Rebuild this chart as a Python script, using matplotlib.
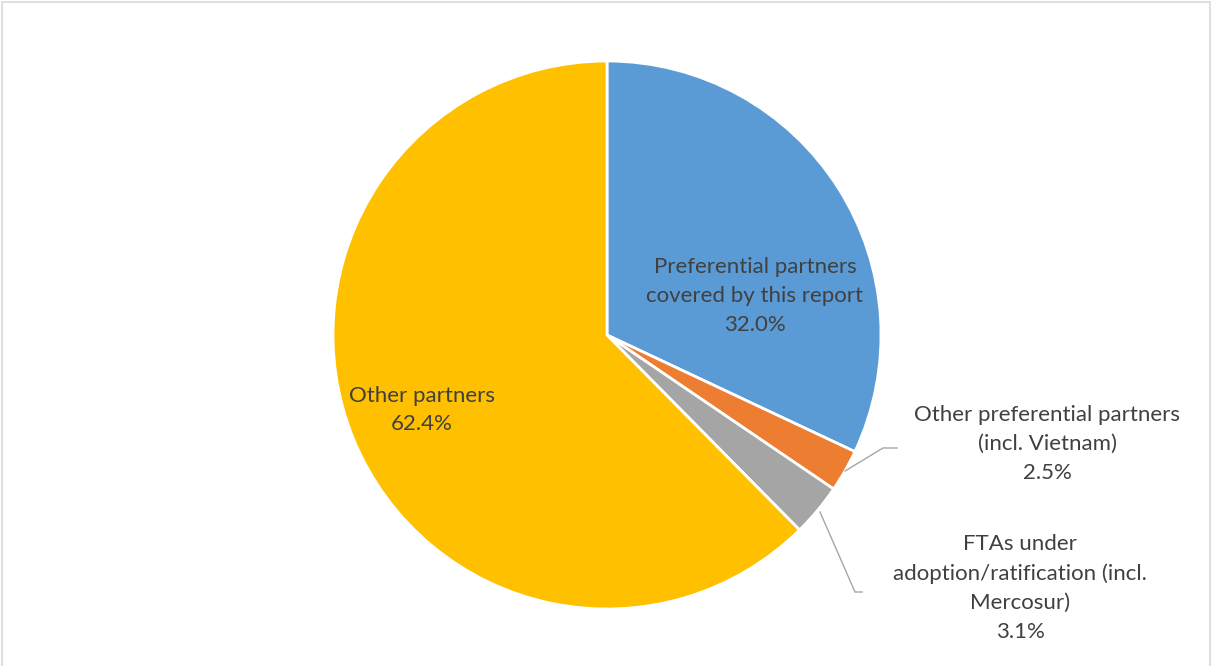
import matplotlib.pyplot as plt
from matplotlib.patches import Rectangle

# Share of trade by partner group
labels = [
    "Preferential partners\ncovered by this report",
    "Other preferential partners\n(incl. Vietnam)",
    "FTAs under\nadoption/ratification (incl.\nMercosur)",
    "Other partners",
]
shares = [32.0, 2.5, 3.1, 62.4]
colors = ["#5B9BD5", "#ED7D31", "#A5A5A5", "#FFC000"]

W, H = 1212, 666
plt.rcParams["font.family"] = ["Lato", "DejaVu Sans"]
TEXT = "#404040"

fig = plt.figure(figsize=(W / 100, H / 100), dpi=100)
ax = fig.add_axes([0, 0, 1, 1])

cx, cy, r = 607, H - 335, 274
wedges, _ = ax.pie(shares, colors=colors, startangle=90, counterclock=False,
                   center=(cx, cy), radius=r, frame=True,
                   wedgeprops=dict(edgecolor="white", linewidth=2))
ax.set_xlim(0, W)
ax.set_ylim(0, H)
ax.set_aspect("equal")
ax.axis("off")

texts = [f"{l}\n{v:.1f}%" for l, v in zip(labels, shares)]
kw = dict(ha="center", va="center", fontsize=16, color=TEXT, linespacing=1.55)
ax.text(755, H - 296, texts[0], **kw)
ax.text(1047, H - 444, texts[1], **kw)
ax.text(1020, H - 588, texts[2], **kw)
ax.text(422, H - 410, texts[3], **kw)

# leader lines for the small slices
ax.plot([845, 883, 897], [H - 471, H - 448, H - 448], color="#A6A6A6", lw=1)
ax.plot([820, 855, 862], [H - 512, H - 592, H - 592], color="#A6A6A6", lw=1)

# chart border
fig.patches.append(Rectangle((1.5 / W, -0.01), (W - 4) / W, 1 - 1.5 / H + 0.01,
                             transform=fig.transFigure, fill=False,
                             edgecolor="#D9D9D9", lw=1.2))

fig.savefig("out.png", dpi=100)
